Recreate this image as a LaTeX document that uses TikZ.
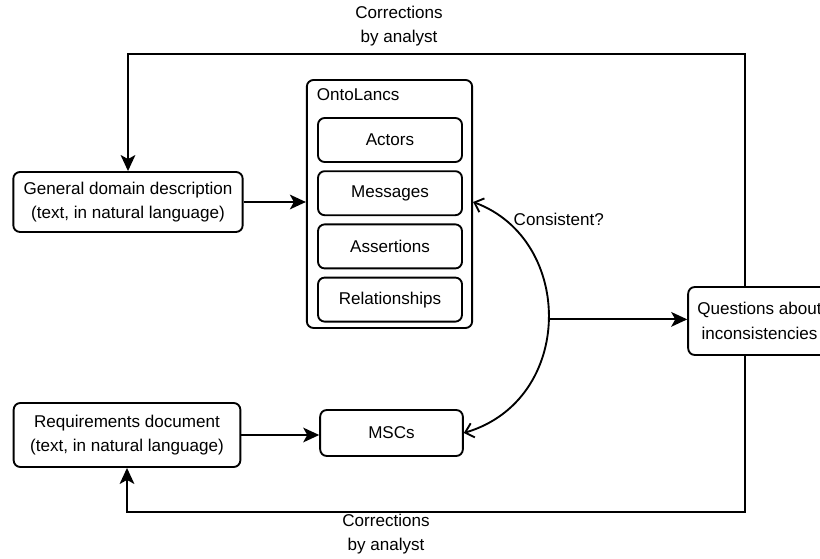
\documentclass[tikz,border=0pt]{standalone}
\usepackage{fontspec}
\setmainfont{Liberation Sans}
\usetikzlibrary{arrows.meta, positioning}

\begin{document}
\begin{tikzpicture}[x=0.75pt, y=-0.75pt, node distance=5.5pt,
    every node/.style={font=\fontsize{12.8}{18.5}\selectfont}]
    \tikzstyle{caixa}=[rectangle, rounded corners=5pt, draw, line width=1.4pt,
      align=center, inner sep=2pt]
    \tikzstyle{parte}=[caixa, minimum width=108pt, minimum height=33pt]
    \tikzstyle{seta}=[-{Stealth[length=12pt, width=11pt, inset=3pt]}, line width=1.5pt]
    \tikzstyle{aberta}=[{Straight Barb[length=6pt, width=11pt]}-{Straight Barb[length=6pt, width=11pt]}, line width=1.4pt]
    \useasboundingbox (0,0) rectangle (820,559);
    % entradas
    \node[caixa, minimum width=172pt, minimum height=45pt] (geral) at (128,202)
      {General domain description\\(text, in natural language)};
    \node[caixa, minimum width=170pt, minimum height=48pt] (req) at (127,435)
      {Requirements document\\(text, in natural language)};
    % ontologia
    \node[caixa, minimum width=124pt, minimum height=186pt] (onto) at (389.5,204) {};
    \node[anchor=north west, inner sep=0pt] (ontonome) at ([xshift=8pt, yshift=-7pt]onto.north west) {OntoLancs};
    \node[parte] (atores) at (390,140) {Actors};
    \node[parte, below=of atores] (mensagens) {Messages};
    \node[parte, below=of mensagens] (asser) {Assertions};
    \node[parte, below=of asser] (relac) {Relationships};
    \node[caixa, minimum width=107pt, minimum height=34.5pt] (mscs) at (391.5,433) {MSCs};
    % perguntas
    \node[caixa, minimum width=107pt, minimum height=51pt] (perg) at (759.5,321)
      {Questions about\\inconsistencies};
    % conexoes
    \draw[seta] (geral) -- (onto.west |- geral);
    \draw[seta] (req) -- (mscs.west |- req);
    \draw[aberta] (onto.east |- geral.east) .. controls (575,240) and (575,400) ..
      coordinate[pos=0.5] (meio) (mscs.east);
    \node[anchor=west] (consist) at (509,219) {Consistent?};
    \draw[seta] (meio) -- (perg.west |- meio);
    \coordinate (topo) at (745,54);
    \coordinate (base) at (745,512);
    \draw[seta] (perg.north -| topo) -- (topo) -| (geral.north);
    \draw[seta] (perg.south -| base) -- (base) -| (req.south);
    \node[align=center] (corr1) at (399,26) {Corrections\\by analyst};
    \node[align=center] (corr2) at (386,534) {Corrections\\by analyst};
  \end{tikzpicture}
\end{document}
